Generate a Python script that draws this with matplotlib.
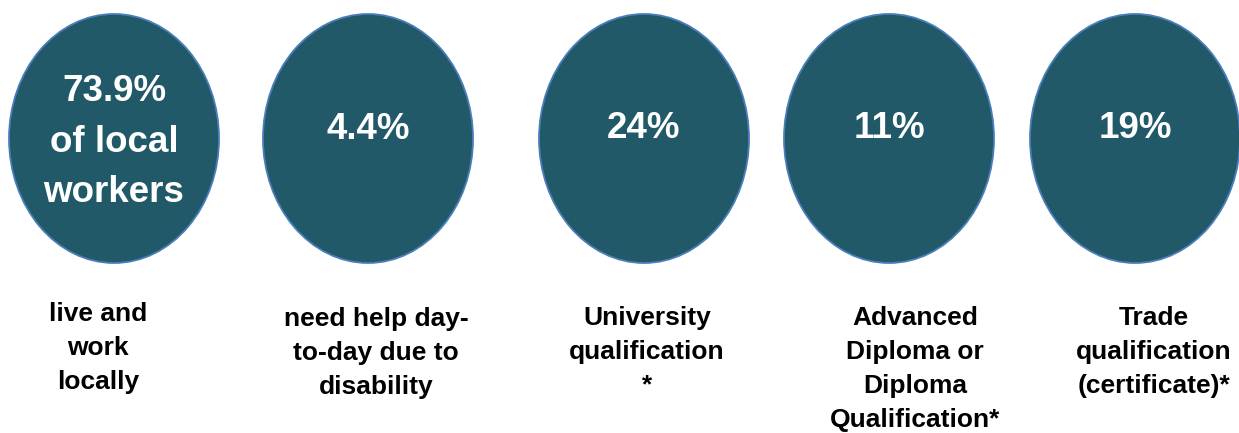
import matplotlib.pyplot as plt
from matplotlib.patches import Ellipse

# headline figures and the captions under each bubble
values = ["73.9%\nof local\nworkers", "4.4%", "24%", "11%", "19%"]
captions = [
    "live and\nwork\nlocally",
    "need help day-\nto-day due to\ndisability",
    "University\nqualification\n*",
    "Advanced\nDiploma or\nDiploma\nQualification*",
    "Trade\nqualification\n(certificate)*",
]

# layout in pixel units (figure is 1239 x 433)
bubble_x = [114, 368, 644, 889, 1135]
bubble_y = 138.5
bubble_w, bubble_h = 210, 249
value_top = [74, 112, 111, 111, 111]
caption_x = [98, 376, 647, 915, 1154]
caption_top = [302, 307, 306, 306, 306]

fill = "#215968"
edge = "#4a7ebb"

plt.rcParams["font.family"] = ["Liberation Sans", "DejaVu Sans"]

fig = plt.figure(figsize=(12.39, 4.33), dpi=100)
ax = fig.add_axes([0, 0, 1, 1])
ax.set_xlim(0, 1239)
ax.set_ylim(433, 0)
ax.axis("off")

for i in range(len(values)):
    ax.add_patch(Ellipse((bubble_x[i], bubble_y), bubble_w, bubble_h,
                         facecolor=fill, edgecolor=edge, linewidth=1.3))
    ax.text(bubble_x[i], value_top[i], values[i], color="white",
            fontsize=26.5, fontweight="bold", ha="center", va="top",
            multialignment="center", linespacing=1.58)
    ax.text(caption_x[i], caption_top[i], captions[i], color="black",
            fontsize=19, fontweight="bold", ha="center", va="top",
            multialignment="center", linespacing=1.52)

fig.savefig("out.png", dpi=100)
